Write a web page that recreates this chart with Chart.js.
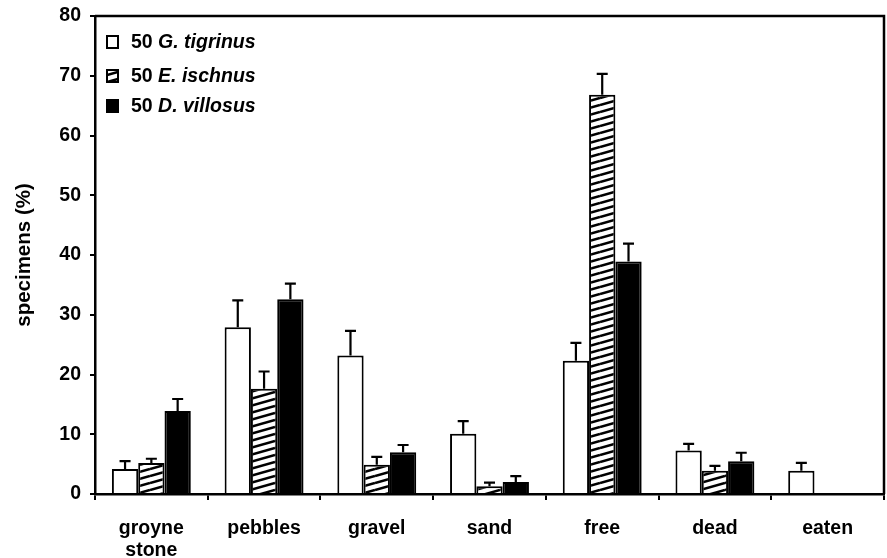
<!DOCTYPE html>
<html>
<head>
<meta charset="utf-8">
<script src="https://cdn.jsdelivr.net/npm/chart.js@4.4.1/dist/chart.umd.min.js"></script>
<style>
  html, body { margin: 0; padding: 0; background: #fff; }
  #wrap { width: 887px; height: 558px; }
</style>
</head>
<body>
<div id="wrap"><canvas id="habitatChart" width="887" height="558"></canvas></div>
<script>
// substrate choice, % of specimens
const categories = [['groyne', 'stone'], 'pebbles', 'gravel', 'sand', 'free', 'dead', 'eaten'];
const speciesNames = ['G. tigrinus', 'E. ischnus', 'D. villosus'];
const tigrinus = [4.2, 27.9, 23.2, 10.1, 22.3, 7.3, 3.9];
const ischnus = [5.2, 17.6, 4.9, 1.3, 66.8, 3.9, 0];
const villosus = [13.9, 32.6, 7.0, 2.0, 38.9, 5.5, 0];
const tigrinusErr = [1.3, 4.5, 4.1, 2.1, 3.0, 1.1, 1.3];
const ischnusErr = [0.7, 2.9, 1.3, 0.6, 3.5, 0.8, 0];
const villosusErr = [2.0, 2.6, 1.2, 1.0, 3.0, 1.4, 0];
const yTicks = [0, 10, 20, 30, 40, 50, 60, 70, 80];

const FONT = 'Liberation Sans, Arial, sans-serif';

function hatchPattern() {
    const c = document.createElement('canvas');
    c.width = 25;
    c.height = 7;
    const g = c.getContext('2d');
    g.fillStyle = '#fff';
    g.fillRect(0, 0, c.width, c.height);
    g.strokeStyle = '#000';
    g.lineWidth = 2.6;
    for (let k = -1; k <= 1; k++) {
        g.beginPath();
        g.moveTo(0, c.height + k * c.height);
        g.lineTo(c.width, k * c.height);
        g.stroke();
    }
    return g.createPattern(c, 'repeat');
}

const ctx = document.getElementById('habitatChart');
const hatch = hatchPattern();

const errorBars = {
    id: 'errorBars',
    afterDatasetsDraw(chart) {
        const c = chart.ctx;
        const y = chart.scales.y;
        c.save();
        c.strokeStyle = '#000';
        c.lineWidth = 2.2;
        chart.data.datasets.forEach((ds, i) => {
            chart.getDatasetMeta(i).data.forEach((bar, j) => {
                const e = ds.errors[j];
                if (!e) return;
                const top = y.getPixelForValue(ds.data[j] + e);
                c.beginPath();
                c.moveTo(bar.x, bar.y);
                c.lineTo(bar.x, top);
                c.moveTo(bar.x - 5.5, top);
                c.lineTo(bar.x + 5.5, top);
                c.stroke();
            });
        });
        c.restore();
    }
};

const frame = {
    id: 'frame',
    afterDraw(chart) {
        const a = chart.chartArea;
        const c = chart.ctx;
        c.save();
        c.strokeStyle = '#000';
        c.lineWidth = 2.5;
        c.beginPath();
        c.moveTo(a.left, a.top);
        c.lineTo(a.right, a.top);
        c.lineTo(a.right, a.bottom);
        c.stroke();
        c.restore();
    }
};

const speciesLegend = {
    id: 'speciesLegend',
    afterDraw(chart) {
        const c = chart.ctx;
        const rows = [42, 76, 106];
        c.save();
        c.textBaseline = 'middle';
        chart.data.datasets.forEach((ds, i) => {
            const cy = rows[i];
            c.fillStyle = ds.backgroundColor;
            c.fillRect(107, cy - 6, 11, 12);
            c.strokeStyle = '#000';
            c.lineWidth = 2;
            c.strokeRect(107, cy - 6, 11, 12);
            c.fillStyle = '#000';
            c.font = 'bold 19.5px ' + FONT;
            c.fillText('50 ', 131, cy + 1);
            const w = c.measureText('50 ').width;
            c.font = 'italic bold 19.5px ' + FONT;
            c.fillText(ds.label, 131 + w, cy + 1);
        });
        c.restore();
    }
};

const ds = (label, data, errors, bg) => ({
    label: label,
    data: data,
    errors: errors,
    backgroundColor: bg,
    borderColor: '#000',
    borderWidth: 2,
    borderSkipped: 'bottom',
    categoryPercentage: 0.7,
    barPercentage: 1.0
});

new Chart(ctx, {
    type: 'bar',
    data: {
        labels: categories,
        datasets: [
            ds(speciesNames[0], tigrinus, tigrinusErr, '#fff'),
            ds(speciesNames[1], ischnus, ischnusErr, hatch),
            ds(speciesNames[2], villosus, villosusErr, '#000')
        ]
    },
    options: {
        responsive: false,
        animation: false,
        layout: { padding: { top: 16, right: 3, left: 0, bottom: 0 } },
        plugins: {
            legend: { display: false },
            tooltip: { enabled: false }
        },
        scales: {
            x: {
                afterFit: s => { s.height = 64; },
                grid: {
                    drawOnChartArea: false,
                    color: '#000',
                    lineWidth: 2,
                    tickLength: 6,
                    offset: true
                },
                border: { color: '#000', width: 2.5 },
                ticks: {
                    color: '#000',
                    padding: 18,
                    maxRotation: 0,
                    font: { family: FONT, size: 19.5, weight: 'bold', lineHeight: 1.1 }
                }
            },
            y: {
                min: 0,
                max: 80,
                afterFit: s => { s.width = 95; s.paddingTop = 0; s.paddingBottom = 0; },
                afterBuildTicks: s => { s.ticks = yTicks.map(v => ({ value: v })); },
                grid: {
                    drawOnChartArea: false,
                    color: '#000',
                    lineWidth: 2,
                    tickLength: 5
                },
                border: { color: '#000', width: 2.5 },
                ticks: {
                    color: '#000',
                    padding: 9,
                    font: { family: FONT, size: 19.5, weight: 'bold' }
                },
                title: {
                    display: true,
                    text: 'specimens (%)',
                    color: '#000',
                    padding: { top: 12, bottom: 8 },
                    font: { family: FONT, size: 20.5, weight: 'bold' }
                }
            }
        }
    },
    plugins: [errorBars, frame, speciesLegend]
});
</script>
</body>
</html>
